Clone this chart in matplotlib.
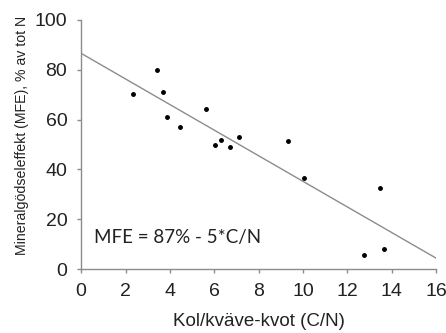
import matplotlib
matplotlib.use('Agg')
import matplotlib.pyplot as plt

# C/N ratio and MFE (% of total N)
cn = [2.33, 3.41, 3.67, 3.88, 4.45, 5.63, 6.01, 6.30, 6.72, 7.12, 9.32, 10.04, 13.45, 12.76, 13.63]
mfe = [70.1, 79.9, 70.9, 60.9, 57.2, 64.2, 50.0, 52.0, 48.9, 53.1, 51.6, 36.6, 32.6, 5.8, 8.2]

# regression line as drawn
intercept = 86.6
slope = -5.14
line_x = [0, 16]

xticks = [0, 2, 4, 6, 8, 10, 12, 14, 16]
yticks = [0, 20, 40, 60, 80, 100]

plt.rcParams['font.family'] = ['Liberation Sans', 'DejaVu Sans']

fig = plt.figure(figsize=(4.46, 3.33), dpi=100)
ax = fig.add_axes([0.182, 0.192, 0.796, 0.748])

ax.plot(line_x, [intercept + slope * v for v in line_x], color='#8c8c8c', linewidth=1.0)
ax.plot(cn, mfe, 'o', color='black', markersize=2.5, linestyle='none')

ax.set_xlim(0, 16)
ax.set_ylim(0, 100)
ax.set_xticks(xticks)
ax.set_yticks(yticks)

for s in ['top', 'right']:
    ax.spines[s].set_visible(False)
for s in ['left', 'bottom']:
    ax.spines[s].set_color('#8c8c8c')
    ax.spines[s].set_linewidth(1.0)

ax.tick_params(axis='both', colors='#8c8c8c', length=3, width=1.0, labelsize=14, labelcolor='#222222')
ax.tick_params(axis='x', direction='out', pad=7)
ax.tick_params(axis='y', direction='out', pad=7)

ax.set_xlabel('Kol/kväve-kvot (C/N)', fontsize=13.5, color='#222222', va='center')
ax.xaxis.set_label_coords(0.5, -0.212)
ax.set_ylabel('Mineralgödseleffekt (MFE), % av tot N', fontsize=10.2, color='#222222', va='center')
ax.yaxis.set_label_coords(-0.166, 0.538)

ax.text(0.56, 12.5, 'MFE = 87% - 5*C/N', fontsize=13.5, family=['Lato', 'DejaVu Sans'],
        color='#222222', va='center', ha='left')

fig.savefig('out.png', dpi=100)
